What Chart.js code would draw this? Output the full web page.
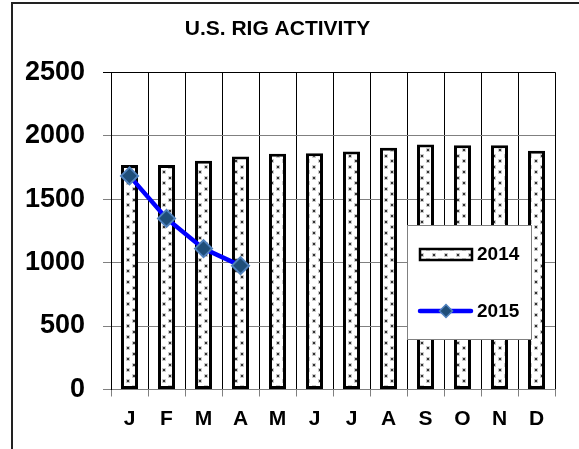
<!DOCTYPE html>
<html><head><meta charset="utf-8">
<script src="https://cdn.jsdelivr.net/npm/chart.js@4.4.1/dist/chart.umd.min.js"></script>
<style>html,body{margin:0;padding:0;background:#fff;} canvas{display:block;}</style>
</head><body>
<canvas id="c" width="579" height="449"></canvas>
<script>
const months = ['J','F','M','A','M','J','J','A','S','O','N','D'];
const rigs2014 = [1769,1769,1803,1835,1857,1861,1876,1904,1930,1925,1925,1882];
const rigs2015 = [1683,1348,1110,976];
const yTicks = [0,500,1000,1500,2000,2500];
const seriesNames = ['2014','2015'];
const chartTitle = 'U.S. RIG ACTIVITY';
const FONT = '"Liberation Sans", Arial, Helvetica, sans-serif';

function makeDots(){
  const c=document.createElement('canvas'); c.width=12; c.height=11;
  const g=c.getContext('2d');
  g.fillStyle='#fff'; g.fillRect(0,0,12,11);
  g.fillStyle='#ccc'; g.fillRect(0,0,4,4); g.fillRect(6,5,4,4);
  g.fillStyle='#333'; g.fillRect(1,1,2,2); g.fillRect(7,6,2,2);
  return g.createPattern(c,'repeat');
}
const dots = makeDots();

const framePlugin = {
  id:'frame',
  beforeDraw(chart){
    const ctx=chart.ctx; ctx.save();
    ctx.fillStyle='#fff'; ctx.fillRect(0,0,chart.width,chart.height);
    ctx.strokeStyle='#222'; ctx.lineWidth=2;
    ctx.beginPath(); ctx.moveTo(12,chart.height); ctx.lineTo(12,3); ctx.lineTo(chart.width,3); ctx.stroke();
    ctx.restore();
  }
};

const legendPlugin = {
  id:'boxLegend',
  afterDraw(chart){
    const ctx=chart.ctx; const ds=chart.data.datasets;
    const barDs = ds.find(d=>d.type==='bar'), lineDs = ds.find(d=>d.type==='line');
    ctx.save();
    const bx=407, by=225, bw=124, bh=114;
    ctx.fillStyle='#fff'; ctx.fillRect(bx,by,bw,bh);
    ctx.strokeStyle='#808080'; ctx.lineWidth=1; ctx.strokeRect(bx+0.5,by+0.5,bw,bh);
    // item 1: bar
    ctx.fillStyle=dots; ctx.fillRect(420,249,52,11);
    ctx.strokeStyle='#000'; ctx.lineWidth=2.5; ctx.strokeRect(420,249,52,11);
    ctx.fillStyle='#000'; ctx.font='bold 19px '+FONT; ctx.textBaseline='middle'; ctx.textAlign='left';
    ctx.fillText(barDs.label,477,255);
    // item 2: line
    ctx.strokeStyle=lineDs.borderColor; ctx.lineWidth=4.5; ctx.lineCap='round';
    ctx.beginPath(); ctx.moveTo(420,311); ctx.lineTo(471,311); ctx.stroke();
    const r=6.5, cx=446, cy=311;
    ctx.beginPath(); ctx.moveTo(cx-r,cy); ctx.lineTo(cx,cy-r); ctx.lineTo(cx+r,cy); ctx.lineTo(cx,cy+r); ctx.closePath();
    ctx.fillStyle=lineDs.pointBackgroundColor; ctx.fill();
    ctx.strokeStyle=lineDs.pointBorderColor; ctx.lineWidth=1.5; ctx.stroke();
    ctx.fillStyle='#000'; ctx.fillText(lineDs.label,477,312);
    ctx.restore();
  }
};

new Chart(document.getElementById('c'), {
  data:{
    labels: months,
    datasets:[
      {type:'line', label:seriesNames[1], data:rigs2015, borderColor:'#0000FF', borderWidth:4.5,
       pointStyle:'rectRot', pointRadius:8.5, pointHoverRadius:8.5, pointBackgroundColor:'#1F4E79',
       pointBorderColor:'#4F81BD', pointBorderWidth:2, tension:0, order:0},
      {type:'bar', label:seriesNames[0], data:rigs2014, backgroundColor:dots, borderColor:'#000',
       borderWidth:3, borderSkipped:false, barPercentage:0.46, categoryPercentage:1, order:1}
    ]
  },
  options:{
    responsive:false, animation:false, devicePixelRatio:1,
    layout:{padding:{left:0,right:24,top:0,bottom:0}},
    plugins:{
      legend:{display:false}, tooltip:{enabled:false},
      title:{display:true, text:chartTitle, color:'#000', font:{family:FONT,size:21,weight:'bold',lineHeight:1.2}, padding:{top:17,bottom:30}}
    },
    scales:{
      x:{
        grid:{color:'#000', tickColor:'#808080', tickLength:7, offset:true, lineWidth:1},
        border:{color:'#808080'},
        ticks:{font:{family:FONT,size:21,weight:'bold'}, color:'#000', padding:10, maxRotation:0, autoSkip:false},
        afterFit(s){ s.height=59.5; }
      },
      y:{
        min:0, max:2500,
        afterBuildTicks(s){ s.ticks = yTicks.map(v=>({value:v})); },
        ticks:{font:{family:FONT,size:27,weight:'bold'}, color:'#000', padding:18, callback:(v)=>String(v)},
        grid:{color:(c)=> (c.tick && c.tick.value===2500) ? '#000' : '#808080', tickLength:8},
        border:{color:'#000'},
        afterFit(s){ s.width=111; }
      }
    }
  },
  plugins:[framePlugin, legendPlugin]
});
</script>
</body></html>
